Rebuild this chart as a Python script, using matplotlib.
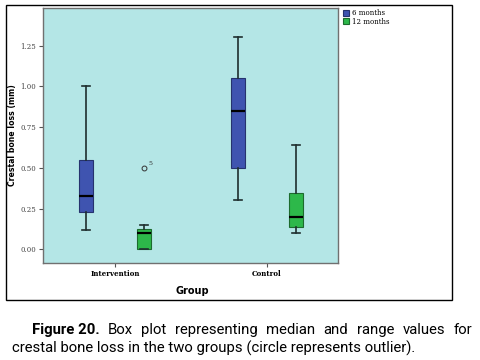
import matplotlib
matplotlib.use("Agg")
import matplotlib.pyplot as plt
from matplotlib.patches import Patch, Rectangle

# Datos (mm)
grupos = ["Intervention", "Control"]
series = ["6 months", "12 months"]
colores = ["#3f54b0", "#2db84a"]
bordes = ["#26336e", "#1c6b2e"]

# estadisticos por serie: [Intervention, Control]
bigote_inf = {"6 months": [0.12, 0.30], "12 months": [0.00, 0.10]}
q1 = {"6 months": [0.23, 0.50], "12 months": [0.00, 0.135]}
mediana = {"6 months": [0.325, 0.85], "12 months": [0.10, 0.20]}
q3 = {"6 months": [0.55, 1.05], "12 months": [0.123, 0.345]}
bigote_sup = {"6 months": [1.00, 1.30], "12 months": [0.15, 0.64]}
atipicos = {"6 months": [[], []], "12 months": [[0.50], []]}
etiqueta_atipico = "5"

fig = plt.figure(figsize=(4.8, 3.6), dpi=100)

# marco exterior de la figura
fig.patches.append(Rectangle((6 / 480, 1 - 300 / 360), 446 / 480, 295 / 360,
                             transform=fig.transFigure, fill=False,
                             edgecolor="black", linewidth=1.0))

ax = fig.add_axes([43 / 480, 1 - 263 / 360, 295 / 480, 255 / 360])
ax.set_facecolor("#b4e6e6")

desplaz = [-0.19, 0.19]
for j, s in enumerate(series):
    stats = []
    for i in range(len(grupos)):
        stats.append({
            "whislo": bigote_inf[s][i], "q1": q1[s][i], "med": mediana[s][i],
            "q3": q3[s][i], "whishi": bigote_sup[s][i], "fliers": atipicos[s][i],
        })
    pos = [i + 1 + desplaz[j] for i in range(len(grupos))]
    ax.bxp(stats, positions=pos, widths=0.095, capwidths=0.05,
           patch_artist=True, manage_ticks=False,
           boxprops=dict(facecolor=colores[j], edgecolor=bordes[j], linewidth=0.8),
           medianprops=dict(color="black", linewidth=1.6),
           whiskerprops=dict(color="#1e2e2e", linewidth=1.2),
           capprops=dict(color="#1e2e2e", linewidth=1.2),
           flierprops=dict(marker="o", markersize=3.5, markerfacecolor="none",
                           markeredgecolor="#333333", markeredgewidth=0.7))
    for i in range(len(grupos)):
        for v in atipicos[s][i]:
            ax.text(pos[i] + 0.03, v + 0.01, etiqueta_atipico, fontsize=4.5,
                    family="DejaVu Serif", color="#333333", va="bottom")

ax.set_xlim(0.526, 2.467)
ax.set_ylim(-0.084, 1.481)
ax.set_xticks([1, 2])
ax.set_xticklabels(grupos, family="DejaVu Serif", fontsize=5, fontweight="bold")
ax.set_yticks([0, 0.25, 0.5, 0.75, 1.0, 1.25])
ax.set_yticklabels(["0.00", "0.25", "0.50", "0.75", "1.00", "1.25"],
                   family="DejaVu Serif", fontsize=5, color="#444444")
ax.tick_params(axis="both", direction="out", length=3, width=0.8, color="#555555", pad=2)
for sp in ax.spines.values():
    sp.set_color("#707070")
    sp.set_linewidth(1.0)

ax.set_ylabel("Crestal bone loss (mm)", fontsize=5.6, fontweight="bold")
ax.yaxis.set_label_coords(-0.088, 0.5)
ax.set_xlabel("Group", fontsize=7, fontweight="bold")
ax.xaxis.set_label_coords(0.505, -0.09)

manejadores = [Patch(facecolor=colores[k], edgecolor=bordes[k], linewidth=0.8) for k in range(2)]
fig.legend(manejadores, series, loc="upper left", bbox_to_anchor=(339 / 480, 1 - 5 / 360),
           frameon=False, handlelength=0.9, handleheight=0.9,
           handletextpad=0.3, labelspacing=0.05, borderpad=0.1,
           prop={"family": "DejaVu Serif", "size": 5})

# pie de figura, primera linea justificada
fig.canvas.draw()
rend = fig.canvas.get_renderer()
fuente = "Roboto"
tam = 10.7
palabras = ["Box", "plot", "representing", "median", "and", "range", "values", "for"]
t0 = fig.text(32 / 480, 1 - 330 / 360, "Figure 20.", fontsize=tam, family=fuente,
              fontweight="bold", va="center")
anchos = []
objs = []
for p in palabras:
    t = fig.text(0, 1 - 330 / 360, p, fontsize=tam, family=fuente, va="center")
    objs.append(t)
    anchos.append(t.get_window_extent(rend).width)
x_ini = 32 + t0.get_window_extent(rend).width
x_fin = 472
hueco = (x_fin - x_ini - sum(anchos)) / len(palabras)
x = x_ini + hueco
for t, w in zip(objs, anchos):
    t.set_x(x / 480)
    x += w + hueco
fig.text(12 / 480, 1 - 348 / 360,
         "crestal bone loss in the two groups (circle represents outlier).",
         fontsize=tam, family=fuente, va="center")

fig.savefig("out.png", dpi=100)
